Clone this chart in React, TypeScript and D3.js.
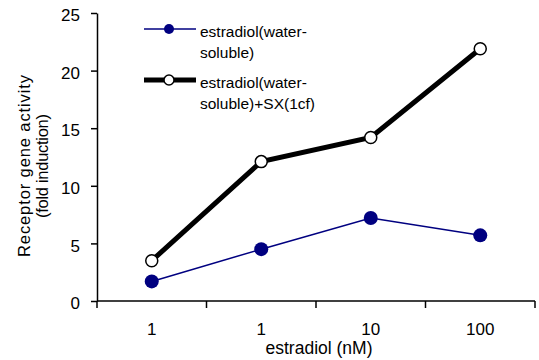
import { useEffect, useRef } from 'react'
import * as d3 from 'd3'

// x categories (the second label really reads "1" in the source)
const doseLabels = ['1', '1', '10', '100']
const estradiolOnly = [1.7, 4.5, 7.2, 5.7]
const estradiolSX = [3.5, 12.1, 14.2, 21.9]
const yTicks = [0, 5, 10, 15, 20, 25]
const seriesNames = [
  ['estradiol(water-', 'soluble)'],
  ['estradiol(water-', 'soluble)+SX(1cf)'],
]

export default function App() {
  const ref = useRef<SVGSVGElement>(null)

  useEffect(() => {
    const svg = d3.select(ref.current)
    svg.selectAll('*').remove()

    const left = 97, right = 535, top = 13, bottom = 301
    const font = 'Liberation Sans, Arial, sans-serif'

    const x = d3.scaleBand<number>()
      .domain(d3.range(doseLabels.length))
      .range([left, right])
      .padding(0)
    const y = d3.scaleLinear().domain([0, 25]).range([bottom, top])

    // x axis
    const xAxis = svg.append('g')
      .attr('transform', `translate(0,${bottom})`)
      .call(d3.axisBottom(x).tickSize(0).tickFormat(i => doseLabels[i as number]).tickPadding(22))
    xAxis.select('.domain').remove()
    xAxis.selectAll('text').attr('font-size', 17).attr('font-family', font).attr('fill', '#000')
    svg.append('line')
      .attr('x1', left).attr('x2', right)
      .attr('y1', bottom).attr('y2', bottom)
      .attr('stroke', '#000').attr('stroke-width', 1.5)
    const bounds = x.domain().map(i => x(i) as number).concat([right])
    svg.selectAll('.xtick')
      .data(bounds)
      .enter().append('line')
      .attr('x1', d => d).attr('x2', d => d)
      .attr('y1', bottom).attr('y2', bottom + 7)
      .attr('stroke', '#000').attr('stroke-width', 1.5)

    // y axis
    const yAxis = svg.append('g')
      .attr('transform', `translate(${left},0)`)
      .call(d3.axisLeft(y).tickValues(yTicks).tickSize(6).tickPadding(11).tickSizeOuter(0))
    yAxis.select('.domain').attr('stroke-width', 1.5)
    yAxis.selectAll('line').attr('stroke-width', 1.5)
    yAxis.selectAll('text').attr('font-size', 17).attr('font-family', font)
      .attr('fill', '#000').attr('dy', '0.45em')

    const cx = (i: number) => (x(i) as number) + x.bandwidth() / 2
    const line = d3.line<number>().x((_, i) => cx(i)).y(d => y(d))

    // blue series
    svg.append('path')
      .datum(estradiolOnly)
      .attr('d', line)
      .attr('fill', 'none')
      .attr('stroke', '#000080')
      .attr('stroke-width', 1.5)
    svg.selectAll('.blue')
      .data(estradiolOnly)
      .enter().append('circle')
      .attr('cx', (_, i) => cx(i))
      .attr('cy', d => y(d))
      .attr('r', 7)
      .attr('fill', '#000080')

    // black series
    svg.append('path')
      .datum(estradiolSX)
      .attr('d', line)
      .attr('fill', 'none')
      .attr('stroke', '#000')
      .attr('stroke-width', 5)
    svg.selectAll('.black')
      .data(estradiolSX)
      .enter().append('circle')
      .attr('cx', (_, i) => cx(i))
      .attr('cy', d => y(d))
      .attr('r', 6)
      .attr('fill', '#fff')
      .attr('stroke', '#000')
      .attr('stroke-width', 1.5)

    // legend
    const legendY = [29, 80]
    const textY = [37, 88]
    const legendStyle = [
      { stroke: '#000080', width: 1.5, fill: '#000080', r: 5, sw: 0 },
      { stroke: '#000', width: 5, fill: '#fff', r: 5, sw: 1.5 },
    ]
    seriesNames.forEach((lines, k) => {
      const ly = legendY[k]
      const st = legendStyle[k]
      svg.append('line')
        .attr('x1', 144).attr('x2', 196)
        .attr('y1', ly).attr('y2', ly)
        .attr('stroke', st.stroke).attr('stroke-width', st.width)
      svg.append('circle')
        .attr('cx', 169).attr('cy', ly).attr('r', st.r)
        .attr('fill', st.fill).attr('stroke', '#000').attr('stroke-width', st.sw)
      const t = svg.append('text')
        .attr('x', 200).attr('y', textY[k])
        .attr('font-size', 15.5).attr('font-family', font)
      lines.forEach((s, j) => {
        t.append('tspan').attr('x', 200).attr('dy', j === 0 ? 0 : 21).text(s)
      })
    })

    // axis titles
    svg.append('text')
      .attr('x', 319).attr('y', 354)
      .attr('text-anchor', 'middle')
      .attr('font-size', 17.5).attr('font-family', font)
      .text('estradiol (nM)')
    const yt = svg.append('g').attr('transform', 'translate(30,166) rotate(-90)')
    yt.append('text')
      .attr('text-anchor', 'middle')
      .attr('font-size', 16.5).attr('font-family', font)
      .attr('textLength', 182).attr('lengthAdjust', 'spacing')
      .text('Receptor gene activity')
    yt.append('text')
      .attr('y', 18)
      .attr('text-anchor', 'middle')
      .attr('font-size', 16.5).attr('font-family', font)
      .attr('textLength', 104).attr('lengthAdjust', 'spacing')
      .text('(fold induction)')
  }, [])

  return (
    <svg ref={ref} width={539} height={360}
      style={{ position: 'absolute', left: 0, top: 0, background: '#fff' }} />
  )
}
